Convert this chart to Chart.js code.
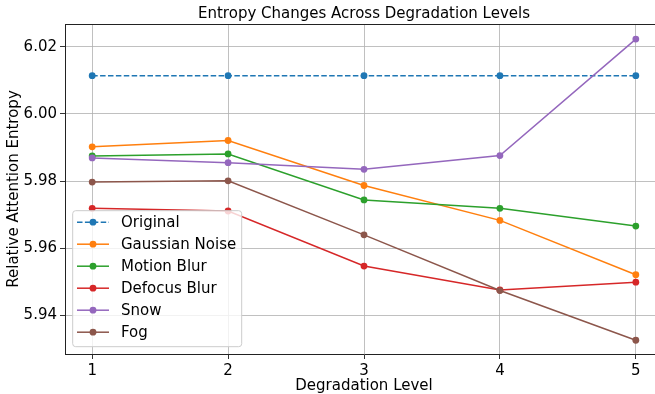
<!DOCTYPE html>
<html>
<head>
<meta charset="utf-8">
<script src="https://cdn.jsdelivr.net/npm/chart.js@4/dist/chart.umd.min.js"></script>
<style>
    html, body { margin: 0; padding: 0; background: #fff; overflow: hidden; }
    #wrap { width: 655px; height: 394px; overflow: hidden; }
    #chart { display: block; }
</style>
</head>
<body>
<div id="wrap"><canvas id="chart" width="667" height="394"></canvas></div>
<script>
'use strict';

/* ---------- data ---------- */
const LEVELS = [1, 2, 3, 4, 5];
const Y_TICKS = [5.94, 5.96, 5.98, 6.00, 6.02];
const SERIES_NAMES = ['Original', 'Gaussian Noise', 'Motion Blur', 'Defocus Blur', 'Snow', 'Fog'];
const ORIGINAL = [6.0114, 6.0114, 6.0114, 6.0114, 6.0114];
const GAUSSIAN_NOISE = [5.9902, 5.9921, 5.9787, 5.9683, 5.9521];
const MOTION_BLUR = [5.9875, 5.9881, 5.9744, 5.9719, 5.9666];
const DEFOCUS_BLUR = [5.9719, 5.9711, 5.9547, 5.9476, 5.9499];
const SNOW = [5.9869, 5.9855, 5.9835, 5.9876, 6.0223];
const FOG = [5.9797, 5.9801, 5.9640, 5.9474, 5.9326];

const COLORS = ['#1f77b4', '#ff7f0e', '#2ca02c', '#d62728', '#9467bd', '#8c564b'];
const FONT = 'DejaVu Sans';

const values = [ORIGINAL, GAUSSIAN_NOISE, MOTION_BLUR, DEFOCUS_BLUR, SNOW, FOG];
const datasets = values.map(function (vals, i) {
    return {
        label: SERIES_NAMES[i],
        data: vals.map((v, j) => ({ x: LEVELS[j], y: v })),
        borderColor: COLORS[i],
        backgroundColor: COLORS[i],
        borderWidth: 1.5,
        borderDash: i === 0 ? [5.5, 2.4] : [],
        pointRadius: 3.4,
        pointBorderWidth: 0,
        pointBackgroundColor: COLORS[i],
        tension: 0,
        fill: false,
        order: -i // later series on top, like matplotlib
    };
});

/* ---------- top spine (right spine falls outside the window) ---------- */
const framePlugin = {
    id: 'frame',
    afterDatasetsDraw(chart) {
        const a = chart.chartArea, ctx = chart.ctx;
        const y = Math.round(a.top) + 0.5;
        ctx.save();
        ctx.strokeStyle = '#222';
        ctx.lineWidth = 1;
        ctx.beginPath();
        ctx.moveTo(a.left, y);
        ctx.lineTo(a.right, y);
        ctx.stroke();
        ctx.restore();
    }
};

/* ---------- legend inside plot, lower left ---------- */
const insideLegend = {
    id: 'insideLegend',
    afterDraw(chart) {
        const a = chart.chartArea, ctx = chart.ctx;
        const x0 = a.left + 7.7, w = 169, h = 136;
        const y0 = a.bottom - 7.3 - h;
        ctx.save();
        ctx.beginPath();
        ctx.roundRect(x0, y0, w, h, 3);
        ctx.fillStyle = 'rgba(255,255,255,0.8)';
        ctx.fill();
        ctx.strokeStyle = '#cccccc';
        ctx.lineWidth = 1;
        ctx.stroke();
        ctx.font = '15px "' + FONT + '"';
        ctx.textBaseline = 'middle';
        chart.data.datasets.forEach(function (ds, i) {
            const cy = y0 + 11.5 + i * 22;
            ctx.beginPath();
            ctx.setLineDash(ds.borderDash);
            ctx.strokeStyle = ds.borderColor;
            ctx.lineWidth = ds.borderWidth;
            ctx.moveTo(x0 + 4.3, cy);
            ctx.lineTo(x0 + 36.3, cy);
            ctx.stroke();
            ctx.setLineDash([]);
            ctx.beginPath();
            ctx.arc(x0 + 20.3, cy, ds.pointRadius, 0, Math.PI * 2);
            ctx.fillStyle = ds.pointBackgroundColor;
            ctx.fill();
            ctx.fillStyle = '#000';
            ctx.fillText(ds.label, x0 + 48.3, cy + 1);
        });
        ctx.restore();
    }
};

new Chart(document.getElementById('chart'), {
    type: 'line',
    data: { datasets: datasets },
    options: {
        responsive: false,
        animation: false,
        layout: { padding: { left: 0, right: 0, top: 0, bottom: 0 } },
        plugins: {
            legend: { display: false },
            tooltip: { enabled: false },
            title: {
                display: true,
                text: 'Entropy Changes Across Degradation Levels',
                fullSize: false,
                color: '#000',
                font: { family: FONT, size: 15, weight: 'normal' },
                padding: { top: 5, bottom: 1 }
            }
        },
        scales: {
            x: {
                type: 'linear',
                min: 0.8,
                max: 5.2,
                afterBuildTicks(scale) { scale.ticks = LEVELS.map(v => ({ value: v })); },
                afterFit(scale) { scale.height = 40; },
                ticks: {
                    color: '#000',
                    font: { family: FONT, size: 15 },
                    padding: 3,
                    callback: v => String(v)
                },
                grid: { color: '#b0b0b0', lineWidth: 0.8, tickLength: 5, tickColor: '#000' },
                border: { color: '#222', width: 1 },
                title: {
                    display: true,
                    text: 'Degradation Level',
                    color: '#000',
                    font: { family: FONT, size: 15, lineHeight: 1.0 },
                    padding: { top: 0, bottom: 0 }
                }
            },
            y: {
                type: 'linear',
                min: 5.9285,
                max: 6.0268,
                afterBuildTicks(scale) { scale.ticks = Y_TICKS.map(v => ({ value: v })); },
                afterFit(scale) { scale.width = 65; },
                ticks: {
                    color: '#000',
                    font: { family: FONT, size: 15 },
                    padding: 3,
                    callback: v => v.toFixed(2)
                },
                grid: { color: '#b0b0b0', lineWidth: 0.8, tickLength: 5, tickColor: '#000' },
                border: { color: '#222', width: 1 },
                title: {
                    display: true,
                    text: 'Relative Attention Entropy',
                    color: '#000',
                    font: { family: FONT, size: 15 },
                    padding: { top: 5, bottom: 0 }
                }
            }
        }
    },
    plugins: [framePlugin, insideLegend]
});
</script>
</body>
</html>
